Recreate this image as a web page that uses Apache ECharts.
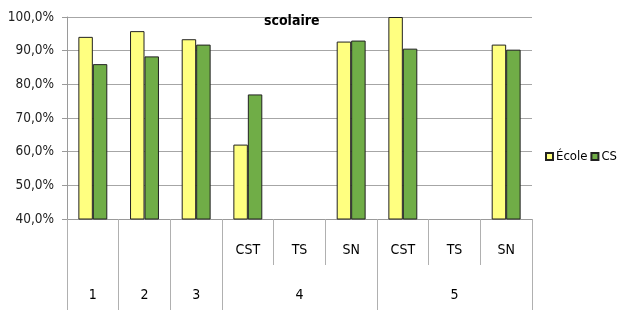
<!DOCTYPE html>
<html>
<head>
<meta charset="utf-8">
<script src="https://cdn.jsdelivr.net/npm/echarts@6/dist/echarts.min.js"></script>
<style>
html,body{margin:0;padding:0;background:#fff;}
#chart{width:619px;height:310px;}
</style>
</head>
<body>
<div id="chart"></div>
<script>
var subLabels = ['', '', '', 'CST', 'TS', 'SN', 'CST', 'TS', 'SN'];
var groupLabels = ['1', '2', '3', '', '4', '', '', '5', ''];
var groupStarts = [0, 1, 2, 3, 6];
var ecoleValues = [94.1, 95.8, 93.4, 62.1, 0, 92.7, 100.0, 0, 91.8];
var csValues = [86.0, 88.3, 91.8, 77.0, 0, 93.0, 90.6, 0, 90.3];
var seriesNames = ['École', 'CS'];
var titleText = 'scolaire';

var FONT = "'DejaVu Sans Condensed', 'Liberation Sans Narrow', sans-serif";
var chart = echarts.init(document.getElementById('chart'), null, {renderer: 'canvas'});
chart.setOption({
  animation: false,
  title: {
    text: titleText,
    left: 259, top: 9,
    textStyle: {fontFamily: FONT, fontSize: 14, fontWeight: 'bold', color: '#000'}
  },
  legend: {
    orient: 'horizontal',
    left: 540, top: 145, width: 100,
    itemWidth: 7, itemHeight: 7, itemGap: 3,
    icon: 'rect',
    textStyle: {fontFamily: FONT, fontSize: 13, color: '#000', padding: [0, 0, 0, -2]},
    data: seriesNames
  },
  grid: {left: 67, right: 87, top: 17, bottom: 91, containLabel: false},
  xAxis: [{
    type: 'category',
    data: subLabels,
    position: 'bottom',
    axisLine: {show: true, lineStyle: {color: '#9a9a9a', width: 1}},
    axisTick: {show: true, length: 46, interval: 0, lineStyle: {color: '#b0b0b0'}},
    axisLabel: {interval: 0, margin: 24, fontFamily: FONT, fontSize: 14, color: '#000'},
    splitLine: {show: false}
  }, {
    type: 'category',
    data: groupLabels,
    position: 'bottom',
    gridIndex: 0,
    axisLine: {show: false},
    axisTick: {show: true, length: 92, lineStyle: {color: '#b0b0b0'},
      interval: function (idx) { return groupStarts.indexOf(idx) >= 0; }},
    axisLabel: {interval: 0, margin: 69, fontFamily: FONT, fontSize: 14, color: '#000'},
    splitLine: {show: false}
  }],
  yAxis: {
    type: 'value',
    min: 40, max: 100, interval: 10,
    axisLine: {show: true, lineStyle: {color: '#9a9a9a'}},
    axisTick: {show: true, length: 5, lineStyle: {color: '#9a9a9a'}},
    axisLabel: {
      margin: 13, fontFamily: FONT, fontSize: 13.5, color: '#222',
      formatter: function (v) { return v.toFixed(1).replace('.', ',') + '%'; }
    },
    splitLine: {show: true, lineStyle: {color: '#a6a6a6', width: 1}}
  },
  series: [{
    name: seriesNames[0],
    type: 'bar',
    xAxisIndex: 0,
    data: ecoleValues,
    barGap: '0%',
    barCategoryGap: '44%',
    itemStyle: {color: '#ffff80', borderColor: '#222', borderWidth: 1}
  }, {
    name: seriesNames[1],
    type: 'bar',
    xAxisIndex: 0,
    data: csValues,
    barGap: '0%',
    barCategoryGap: '44%',
    itemStyle: {color: '#70ad47', borderColor: '#222', borderWidth: 1}
  }]
});
</script>
</body>
</html>
